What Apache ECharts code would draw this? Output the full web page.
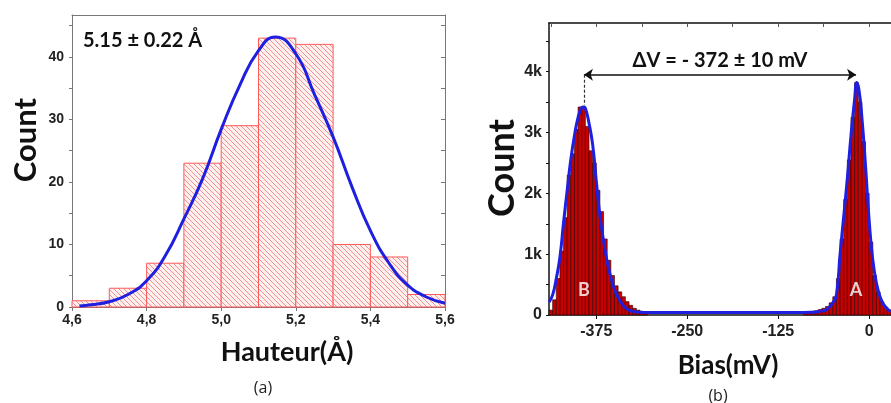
<!DOCTYPE html>
<html><head><meta charset="utf-8">
<script src="https://cdn.jsdelivr.net/npm/echarts@6/dist/echarts.min.js"></script>
<style>html,body{margin:0;padding:0;background:#fff}#c{width:891px;height:403px}</style>
</head><body><div id="c"></div>
<script>
// ---- Panel (a): height histogram ----
const heightBinStart = [4.6, 4.7, 4.8, 4.9, 5.0, 5.1, 5.2, 5.3, 5.4, 5.5];
const heightBinEnd   = [4.7, 4.8, 4.9, 5.0, 5.1, 5.2, 5.3, 5.4, 5.5, 5.6];
const heightCounts   = [1, 3, 7, 23, 29, 43, 42, 10, 8, 2];
const fitAX = [4.62, 4.65, 4.70, 4.75, 4.80, 4.85, 4.90, 4.95, 5.00, 5.05, 5.10, 5.145, 5.20, 5.25, 5.30, 5.35, 5.40, 5.45, 5.50, 5.55, 5.60];
const fitAY = [0.15, 0.35, 0.85, 2.0, 4.2, 8.2, 14.1, 20.5, 28.4, 35.5, 41.0, 43.2, 40.5, 34.0, 27.2, 19.3, 12.2, 7.0, 3.5, 1.6, 0.6];
const heightTicks = [4.6, 4.8, 5.0, 5.2, 5.4, 5.6];
const countTicksA = [0, 10, 20, 30, 40];
const countMinorA = [0, 5, 10, 15, 20, 25, 30, 35, 40, 45];

// ---- Panel (b): bias histogram ----
const biasB  = [-437.5, -432.5, -427.5, -422.5, -417.5, -412.5, -407.5, -402.5, -397.5, -392.5, -387.5, -382.5, -377.5, -372.5, -367.5, -362.5, -357.5, -352.5, -347.5, -342.5, -337.5, -332.5, -327.5, -322.5, -317.5, -312.5, -307.5];
const countB = [80, 250, 600, 1050, 1600, 2300, 2650, 3050, 3420, 3420, 3100, 2700, 2500, 2050, 1700, 1250, 900, 650, 480, 380, 300, 220, 160, 110, 80, 60, 50];
const biasA  = [-87.5, -82.5, -77.5, -72.5, -67.5, -62.5, -57.5, -52.5, -47.5, -42.5, -37.5, -32.5, -27.5, -22.5, -17.5, -12.5, -7.5, -2.5, 2.5, 7.5, 12.5, 17.5, 22.5, 27.5];
const countA = [40, 50, 60, 70, 90, 110, 140, 200, 300, 600, 1250, 1900, 2550, 3250, 3820, 3500, 2850, 2000, 1200, 650, 380, 220, 130, 80];
const fitBX = [-440, -435, -430, -425, -420, -415, -410, -405, -400, -395, -392.5, -390, -385, -380, -375, -370, -365, -360, -355, -350, -345, -340, -335, -330, -320, -300, -250, -200, -150, -100, -80, -70, -60, -55, -50, -45, -40, -35, -30, -25, -20, -17, -14, -10, -5, 0, 5, 10, 15, 20, 26, 30];
const fitBY = [210, 330, 600, 950, 1520, 2050, 2560, 2950, 3250, 3410, 3420, 3400, 3150, 2800, 2200, 1630, 1220, 870, 620, 420, 290, 190, 120, 80, 50, 40, 40, 40, 40, 40, 45, 55, 80, 130, 200, 330, 1000, 1620, 2250, 2950, 3550, 3820, 3700, 3250, 2450, 1550, 900, 520, 300, 170, 90, 60];
const biasTicks = [-375, -250, -125, 0];
const biasMinor = [-437.5, -375, -312.5, -250, -187.5, -125, -62.5, 0];
const countTicksB = [0, 1000, 2000, 3000, 4000];
const countMinorB = [0, 500, 1000, 1500, 2000, 2500, 3000, 3500, 4000, 4500];
const peakB = -392, peakA = -18, arrowLevel = 3950;

const binWidthBias = 5;

// hatch pattern for panel (a)
const pc = document.createElement('canvas');
pc.width = 5; pc.height = 5;
const g = pc.getContext('2d');
g.fillStyle = '#fff0f0'; g.fillRect(0, 0, 5, 5);
g.strokeStyle = '#f39090'; g.lineWidth = 1;
g.beginPath();
g.moveTo(-1, -1); g.lineTo(6, 6);
g.moveTo(-1, 4); g.lineTo(1, 6);
g.moveTo(4, -1); g.lineTo(6, 1);
g.stroke();

const chart = echarts.init(document.getElementById('c'));
const lblA = {fontFamily: 'Liberation Sans', fontWeight: 'bold', fontSize: 14, color: '#222'};
const lblB = {fontFamily: 'Liberation Sans', fontWeight: 'bold', fontSize: 16, color: '#222'};
const greyLine = {onZero: false, lineStyle: {color: '#777', width: 1}};
const blackLine = {onZero: false, lineStyle: {color: '#111', width: 1.5}};

chart.setOption({
  animation: false,
  grid: [
    {left: 72, top: 15, width: 373, height: 292},
    {left: 549, top: 23, width: 345, height: 292}
  ],
  xAxis: [
    {type: 'value', gridIndex: 0, min: 4.6, max: 5.6, position: 'bottom',
     axisLine: {show: true, ...greyLine}, splitLine: {show: false},
     axisTick: {show: true, customValues: heightTicks, length: 4, lineStyle: {color: '#777'}},
     axisLabel: {customValues: heightTicks, margin: 6, ...lblA, formatter: v => v.toFixed(1).replace('.', ',')}},
    {type: 'value', gridIndex: 0, min: 4.6, max: 5.6, position: 'top',
     axisLine: {show: true, ...greyLine}, splitLine: {show: false},
     axisTick: {show: false}, axisLabel: {show: false}},
    {type: 'value', gridIndex: 1, min: -440, max: 30, position: 'bottom',
     axisLine: {show: true, ...blackLine}, splitLine: {show: false},
     axisTick: {show: true, customValues: biasTicks, length: 4, lineStyle: {color: '#111'}},
     axisLabel: {customValues: biasTicks, margin: 9, ...lblB}},
    {type: 'value', gridIndex: 1, min: -440, max: 30, position: 'top',
     axisLine: {show: true, ...blackLine}, splitLine: {show: false},
     axisTick: {show: true, inside: true, customValues: biasMinor, length: 4, lineStyle: {color: '#555'}},
     axisLabel: {show: false}}
  ],
  yAxis: [
    {type: 'value', gridIndex: 0, min: 0, max: 46.7, position: 'left',
     axisLine: {show: true, ...greyLine}, splitLine: {show: false},
     axisTick: {show: true, customValues: countMinorA, length: 3, lineStyle: {color: '#777'}},
     axisLabel: {customValues: countTicksA, margin: 8, ...lblA}},
    {type: 'value', gridIndex: 0, min: 0, max: 46.7, position: 'right',
     axisLine: {show: true, ...greyLine}, splitLine: {show: false},
     axisTick: {show: true, inside: true, customValues: countMinorA, length: 4, lineStyle: {color: '#777'}},
     axisLabel: {show: false}},
    {type: 'value', gridIndex: 1, min: 0, max: 4800, position: 'left',
     axisLine: {show: true, ...blackLine}, splitLine: {show: false},
     axisTick: {show: true, customValues: countMinorB, length: 3, lineStyle: {color: '#111'}},
     axisLabel: {customValues: countTicksB, margin: 7, ...lblB, formatter: v => v === 0 ? '0' : (v / 1000) + 'k'}}
  ],
  series: [
    {type: 'custom', xAxisIndex: 0, yAxisIndex: 0,
     data: heightCounts.map((c, i) => [heightBinStart[i], heightBinEnd[i], c]),
     encode: {x: [0, 1], y: 2},
     renderItem: (params, api) => {
       const p0 = api.coord([api.value(0), api.value(2)]);
       const p1 = api.coord([api.value(1), 0]);
       return {type: 'rect', shape: {x: p0[0], y: p0[1], width: p1[0] - p0[0], height: p1[1] - p0[1]},
               style: {fill: {image: pc, repeat: 'repeat'}, stroke: '#ff5a5a', lineWidth: 1}};
     }},
    {type: 'line', xAxisIndex: 0, yAxisIndex: 0, smooth: true, symbol: 'none',
     data: fitAX.map((x, i) => [x, fitAY[i]]),
     lineStyle: {color: '#1f1fe0', width: 3}},
    {type: 'custom', xAxisIndex: 2, yAxisIndex: 2,
     data: biasB.map((x, i) => [x, countB[i]]).concat(biasA.map((x, i) => [x, countA[i]])),
     encode: {x: 0, y: 1},
     renderItem: (params, api) => {
       const p0 = api.coord([api.value(0) - binWidthBias / 2, api.value(1)]);
       const p1 = api.coord([api.value(0) + binWidthBias / 2, 0]);
       return {type: 'rect', shape: {x: p0[0], y: p0[1], width: p1[0] - p0[0], height: p1[1] - p0[1]},
               style: {fill: '#c40000', stroke: '#2a0000', lineWidth: 0.6}};
     }},
    {type: 'line', xAxisIndex: 2, yAxisIndex: 2, smooth: true, symbol: 'none',
     data: fitBX.map((x, i) => [x, fitBY[i]]),
     lineStyle: {color: '#1f1fe0', width: 3},
     markLine: {
       silent: true, animation: false, label: {show: false},
       data: [
         [{coord: [peakB, arrowLevel], symbol: 'arrow', symbolSize: 9, lineStyle: {color: '#111', width: 1.5, type: 'solid'}},
          {coord: [peakA, arrowLevel], symbol: 'arrow', symbolSize: 9}],
         [{coord: [peakB, arrowLevel], symbol: 'none', lineStyle: {color: '#333', width: 1.2, type: [3, 2]}},
          {coord: [peakB, 3450], symbol: 'none'}]
       ]
     }},
    {type: 'scatter', xAxisIndex: 2, yAxisIndex: 2, symbolSize: 0,
     data: [[peakB, 400, 'B'], [peakA, 400, 'A']],
     label: {show: true, position: 'inside', formatter: p => p.value[2], color: '#fff',
             fontFamily: 'Lato', fontWeight: 'bold', fontSize: 18}}
  ],
  graphic: [
    {type: 'text', left: 83, top: 31, style: {text: '5.15 ± 0.22 Å', font: 'bold 20px Lato', fill: '#111'}},
    {type: 'text', x: 26, y: 140, rotation: Math.PI / 2, style: {text: 'Count', font: 'bold 31px Lato', fill: '#111', align: 'center', verticalAlign: 'middle'}},
    {type: 'text', x: 287, y: 352, style: {text: 'Hauteur(Å)', font: 'bold 27px Lato', fill: '#111', align: 'center', verticalAlign: 'middle'}},
    {type: 'text', x: 263, y: 388, style: {text: '(a)', font: '16px "Open Sans"', fill: '#222', align: 'center', verticalAlign: 'middle'}},
    {type: 'text', x: 502, y: 168, rotation: Math.PI / 2, style: {text: 'Count', font: 'bold 36px Lato', fill: '#111', align: 'center', verticalAlign: 'middle'}},
    {type: 'text', x: 728, y: 366, style: {text: 'Bias(mV)', font: 'bold 26px Lato', fill: '#111', align: 'center', verticalAlign: 'middle'}},
    {type: 'text', x: 718, y: 396, style: {text: '(b)', font: '16px "Open Sans"', fill: '#222', align: 'center', verticalAlign: 'middle'}},
    {type: 'text', x: 720, y: 61, style: {text: 'ΔV = - 372 ± 10 mV', font: 'bold 20px Lato', fill: '#111', align: 'center', verticalAlign: 'middle'}}
  ]
});
</script></body></html>
